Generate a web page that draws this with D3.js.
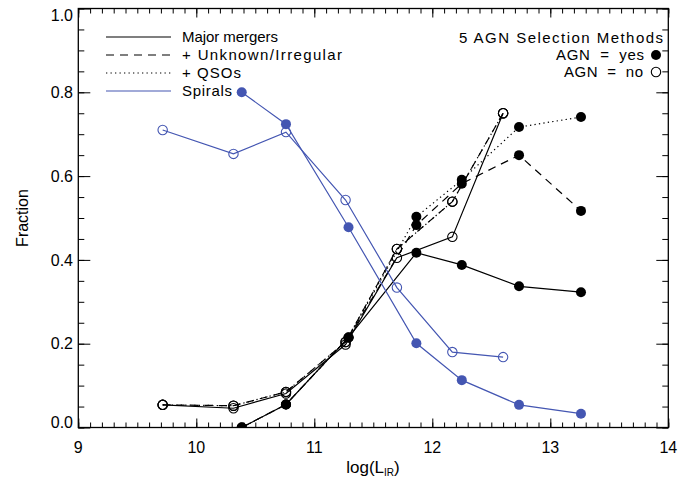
<!DOCTYPE html>
<html>
<head>
<meta charset="utf-8">
<script src="https://cdn.jsdelivr.net/npm/d3@7"></script>
<style>
  html, body { margin: 0; padding: 0; background: #fff; }
  svg { display: block; }
  text { font-family: "Liberation Sans", Arial, sans-serif; fill: #000; }
</style>
</head>
<body>
<svg id="chart" width="695" height="481"></svg>
<script>
// Luminosity bins (log L_IR) for each AGN subsample
const agnYesX = [10.385, 10.76, 11.29, 11.865, 12.25, 12.735, 13.26];
const agnNoX  = [9.715, 10.315, 10.76, 11.265, 11.70, 12.17, 12.60];

// Cumulative fractions, AGN = yes (filled markers)
const mergersYes = [0.000, 0.055, 0.215, 0.417, 0.388, 0.337, 0.323];
const unknownYes = [0.000, 0.055, 0.215, 0.483, 0.582, 0.650, 0.517];
const qsoYes     = [0.000, 0.055, 0.215, 0.503, 0.591, 0.717, 0.741];
const spiralsYes = [0.800, 0.724, 0.478, 0.201, 0.113, 0.054, 0.033];

// Cumulative fractions, AGN = no (open markers)
const mergersNo = [0.054, 0.046, 0.081, 0.198, 0.405, 0.455, 0.750];
const unknownNo = [0.054, 0.052, 0.085, 0.204, 0.426, 0.539, 0.750];
const qsoNo     = [0.054, 0.052, 0.085, 0.204, 0.426, 0.539, 0.750];
const spiralsNo = [0.710, 0.653, 0.705, 0.543, 0.334, 0.180, 0.168];

// Axis ticks
const xTicks = [9, 10, 11, 12, 13, 14];
const yTicks = [0.0, 0.2, 0.4, 0.6, 0.8, 1.0];

const BLUE = "#4456b2";
const legendItems = [
  { label: "Major mergers", dash: null, color: "#000", w: 96 },
  { label: "+ Unknown/Irregular", dash: "8,6", color: "#000", w: 160 },
  { label: "+ QSOs", dash: "1.3,3.2", color: "#000", w: 59 },
  { label: "Spirals", dash: null, color: BLUE, w: 50 }
];

const svg = d3.select("#chart");
const pLeft = 78.3, pRight = 668.3, pTop = 8.5, pBottom = 427.5;

const x = d3.scaleLinear().domain([9, 14]).range([pLeft, pRight]);
const y = d3.scaleLinear().domain([0, 1]).range([pBottom, pTop]);

// clip marks to the plotting frame
svg.append("defs").append("clipPath").attr("id", "plotclip")
  .append("rect").attr("x", pLeft).attr("y", pTop)
  .attr("width", pRight - pLeft).attr("height", pBottom - pTop);

// Axes: major ticks plus minor ticks, mirrored on all four sides
const minorX = d3.range(90, 141).map(d => d / 10);
const minorY = d3.range(0, 21).map(d => d / 20);

function tickAxis(gen, scale, majors, minors, majLen, minLen) {
  const g = svg.append("g");
  g.append("g").call(gen(scale).tickValues(minors).tickSize(minLen).tickFormat(""));
  g.append("g").call(gen(scale).tickValues(majors).tickSize(majLen).tickFormat(""));
  g.selectAll(".domain").remove();
  g.selectAll("line").attr("stroke", "#000").attr("stroke-width", 1);
  return g;
}
tickAxis(d3.axisTop, x, xTicks, minorX, 9, 5).attr("transform", `translate(0,${pBottom})`);
tickAxis(d3.axisBottom, x, xTicks, minorX, 9, 5).attr("transform", `translate(0,${pTop})`);
tickAxis(d3.axisRight, y, yTicks, minorY, 12, 6).attr("transform", `translate(${pLeft},0)`);
tickAxis(d3.axisLeft, y, yTicks, minorY, 12, 6).attr("transform", `translate(${pRight},0)`);

svg.append("rect").attr("x", pLeft).attr("y", pTop)
  .attr("width", pRight - pLeft).attr("height", pBottom - pTop)
  .attr("fill", "none").attr("stroke", "#000").attr("stroke-width", 1.3);

// tick labels
svg.append("g").selectAll("text").data(xTicks).join("text")
  .attr("x", d => x(d)).attr("y", 453)
  .attr("text-anchor", "middle").attr("font-size", 16)
  .text(d => d);
svg.append("g").selectAll("text").data(yTicks).join("text")
  .attr("x", 73).attr("y", d => Math.min(422, Math.max(15, y(d))))
  .attr("dy", "0.36em")
  .attr("text-anchor", "end").attr("font-size", 16)
  .text(d => d3.format(".1f")(d));

// axis titles
const xt = svg.append("text").attr("x", 373).attr("y", 473)
  .attr("text-anchor", "middle").attr("font-size", 17);
xt.append("tspan").text("log(L");
xt.append("tspan").attr("font-size", 10).attr("dy", 3).text("IR");
xt.append("tspan").attr("dy", -3).text(")");
svg.append("text").attr("transform", "translate(28,218) rotate(-90)")
  .attr("text-anchor", "middle").attr("font-size", 16).text("Fraction");

// data lines and markers
const plot = svg.append("g").attr("clip-path", "url(#plotclip)");
const series = [
  { xs: agnYesX, ys: mergersYes, dash: null, color: "#000", filled: true },
  { xs: agnYesX, ys: unknownYes, dash: "8,6", color: "#000", filled: true },
  { xs: agnYesX, ys: qsoYes, dash: "1.3,3.2", color: "#000", filled: true },
  { xs: agnNoX, ys: mergersNo, dash: null, color: "#000", filled: false },
  { xs: agnNoX, ys: unknownNo, dash: "8,6", color: "#000", filled: false },
  { xs: agnNoX, ys: qsoNo, dash: "1.3,3.2", color: "#000", filled: false },
  { xs: agnYesX, ys: spiralsYes, dash: null, color: BLUE, filled: true },
  { xs: agnNoX, ys: spiralsNo, dash: null, color: BLUE, filled: false }
];
const line = d3.line().x(d => x(d[0])).y(d => y(d[1]));
series.forEach(s => {
  const pts = s.xs.map((v, i) => [v, s.ys[i]]);
  plot.append("path").datum(pts)
    .attr("d", line).attr("fill", "none")
    .attr("stroke", s.color).attr("stroke-width", 1.2)
    .attr("stroke-dasharray", s.dash);
  plot.append("g").selectAll("circle").data(pts).join("circle")
    .attr("cx", d => x(d[0])).attr("cy", d => y(d[1]))
    .attr("r", s.filled ? 5 : 4.7)
    .attr("fill", s.filled ? s.color : "none")
    .attr("stroke", s.color).attr("stroke-width", s.filled ? 0 : 1.1);
});

// legend: line styles
const lg = svg.append("g");
legendItems.forEach((d, i) => {
  const yy = 37 + i * 18;
  lg.append("line").attr("x1", 106).attr("x2", 171).attr("y1", yy).attr("y2", yy)
    .attr("stroke", d.color).attr("stroke-width", 1.2)
    .attr("stroke-dasharray", d.dash);
  lg.append("text").attr("x", 182).attr("y", yy).attr("dy", "0.36em")
    .attr("font-size", 15).attr("textLength", d.w).attr("lengthAdjust", "spacing")
    .text(d.label);
});

// legend: AGN marker key
const rg = svg.append("g");
rg.append("text").attr("x", 459).attr("y", 38).attr("dy", "0.36em")
  .attr("font-size", 15).attr("textLength", 204).attr("lengthAdjust", "spacing")
  .text("5 AGN Selection Methods");
rg.append("text").attr("x", 556).attr("y", 55).attr("dy", "0.36em")
  .attr("font-size", 15).attr("textLength", 88).attr("lengthAdjust", "spacing")
  .attr("xml:space", "preserve")
  .text("AGN  =  yes");
rg.append("text").attr("x", 564).attr("y", 72).attr("dy", "0.36em")
  .attr("font-size", 15).attr("textLength", 79).attr("lengthAdjust", "spacing")
  .attr("xml:space", "preserve")
  .text("AGN  =  no");
rg.append("circle").attr("cx", 656).attr("cy", 55).attr("r", 5).attr("fill", "#000");
rg.append("circle").attr("cx", 656).attr("cy", 72).attr("r", 4.7)
  .attr("fill", "none").attr("stroke", "#000").attr("stroke-width", 1.1);
</script>
</body>
</html>
